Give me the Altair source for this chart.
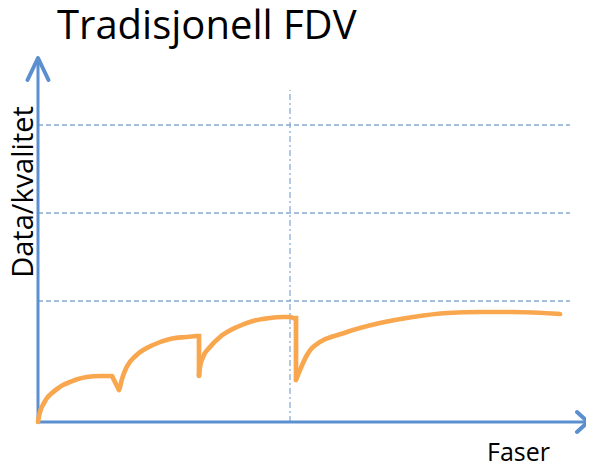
import altair as alt
import pandas as pd

# Smooth growth arcs of the quality curve (x = phase position, y = data/quality)
arc_seg = ([1] * 13) + ([2] * 9) + ([3] * 11) + ([4] * 11)
arc_x = [0, 1, 3, 6, 9, 14, 19, 25, 32, 40, 49, 62, 74,
         81, 82, 83.7, 88.7, 98.7, 115, 132, 148.7, 158.7,
         161, 162, 165, 172, 182, 199, 215, 232, 245, 252, 255,
         258, 262, 269, 275, 309, 342, 375, 409, 442, 475, 522]
arc_y = [0, 6, 13, 19, 24, 29, 33, 37, 40, 43, 45, 46, 46,
         32, 35, 42, 55, 67, 77, 83, 85, 86,
         46, 55, 65, 75, 85, 95, 101, 104, 105, 105, 104,
         42, 52, 67, 75, 90, 99, 105, 109, 110, 110, 108]

# Sharp drops between phases (information loss at hand-over)
drop_seg = [1, 1, 2, 2, 2, 3, 3, 3]
drop_x = [74, 81, 158.7, 161, 161, 255, 258, 258]
drop_y = [46, 32, 86, 86, 46, 104, 104, 42]

grid_levels = [121, 209, 297]
grid_x_end = 532
phase_split = 252
phase_split_top = 332

title_text = "Tradisjonell FDV"
y_label = "Data/kvalitet"
x_label = "Faser"

X = alt.Scale(domain=[0, 548], nice=False, zero=False)
Y = alt.Scale(domain=[0, 362], nice=False, zero=False)

arcs = pd.DataFrame({"x": arc_x, "y": arc_y, "s": arc_seg, "o": list(range(len(arc_x)))})
drops = pd.DataFrame({"x": drop_x, "y": drop_y, "s": drop_seg, "o": list(range(len(drop_x)))})
grid = pd.DataFrame({"y": grid_levels, "x": [0] * 3, "x2": [grid_x_end] * 3})
vline = pd.DataFrame({"x": [phase_split], "y": [0], "y2": [phase_split_top]})

axis_color = "#5B8FCF"
grid_color = "#4A7EBB"
curve_color = "#F9A74F"
FONT = "Open Sans"

axes = pd.DataFrame({
    "x": [0, 0, 0, 550],
    "y": [0, 364, 0, 0],
    "g": ["y", "y", "x", "x"],
    "o": [0, 1, 0, 1],
})
heads = pd.DataFrame({
    "x": [-10.5, 0, 10.5, 539, 550, 539],
    "y": [342, 364, 342, 10, 0, -10],
    "g": ["y", "y", "y", "x", "x", "x"],
    "o": [0, 1, 2, 0, 1, 2],
})

enc_xy = dict(x=alt.X("x:Q", scale=X, axis=None), y=alt.Y("y:Q", scale=Y, axis=None))

grid_layer = alt.Chart(grid).mark_rule(color=grid_color, strokeWidth=1, strokeDash=[5, 3]).encode(
    x=alt.X("x:Q", scale=X, axis=None), x2="x2:Q", y=alt.Y("y:Q", scale=Y, axis=None))
vline_layer = alt.Chart(vline).mark_rule(color="#7FA6D6", strokeWidth=1.2, strokeDash=[6, 3, 2, 3]).encode(
    x=alt.X("x:Q", scale=X, axis=None), y=alt.Y("y:Q", scale=Y, axis=None), y2="y2:Q")
axes_layer = alt.Chart(axes).mark_line(color=axis_color, strokeWidth=3, strokeCap="round").encode(
    detail="g:N", order="o:Q", **enc_xy)
heads_layer = alt.Chart(heads).mark_line(color=axis_color, strokeWidth=4, strokeCap="round", strokeJoin="round").encode(
    detail="g:N", order="o:Q", **enc_xy)
arc_layer = alt.Chart(arcs).mark_line(color=curve_color, strokeWidth=4.7, interpolate="monotone",
                                      strokeCap="round", strokeJoin="round").encode(
    detail="s:N", order="o:Q", **enc_xy)
drop_layer = alt.Chart(drops).mark_line(color=curve_color, strokeWidth=4.7, strokeCap="butt",
                                        strokeJoin="miter").encode(
    detail="s:N", order="o:Q", **enc_xy)

title_layer = alt.Chart(pd.DataFrame({"x": [19], "y": [383], "t": [title_text]})).mark_text(
    font=FONT, fontSize=40, align="left", baseline="alphabetic", color="#000000").encode(text="t:N", **enc_xy)
ylab = alt.Chart(pd.DataFrame({"x": [-5], "y": [230], "t": [y_label]})).mark_text(
    font=FONT, fontSize=29, angle=270, align="center", baseline="alphabetic", color="#000000").encode(text="t:N", **enc_xy)
xlab = alt.Chart(pd.DataFrame({"x": [449], "y": [-39], "t": [x_label]})).mark_text(
    font=FONT, fontSize=25, align="left", baseline="alphabetic", color="#000000").encode(text="t:N", **enc_xy)

chart = alt.layer(grid_layer, vline_layer, axes_layer, heads_layer, arc_layer, drop_layer,
                  title_layer, ylab, xlab).properties(
    width=548, height=362,
    padding={"left": 30, "top": 52, "right": 0, "bottom": 43},
    autosize=alt.AutoSizeParams(type="none"),
).configure_view(stroke=None)

chart.save("out.html", embed_options={"renderer": "svg", "actions": False})
